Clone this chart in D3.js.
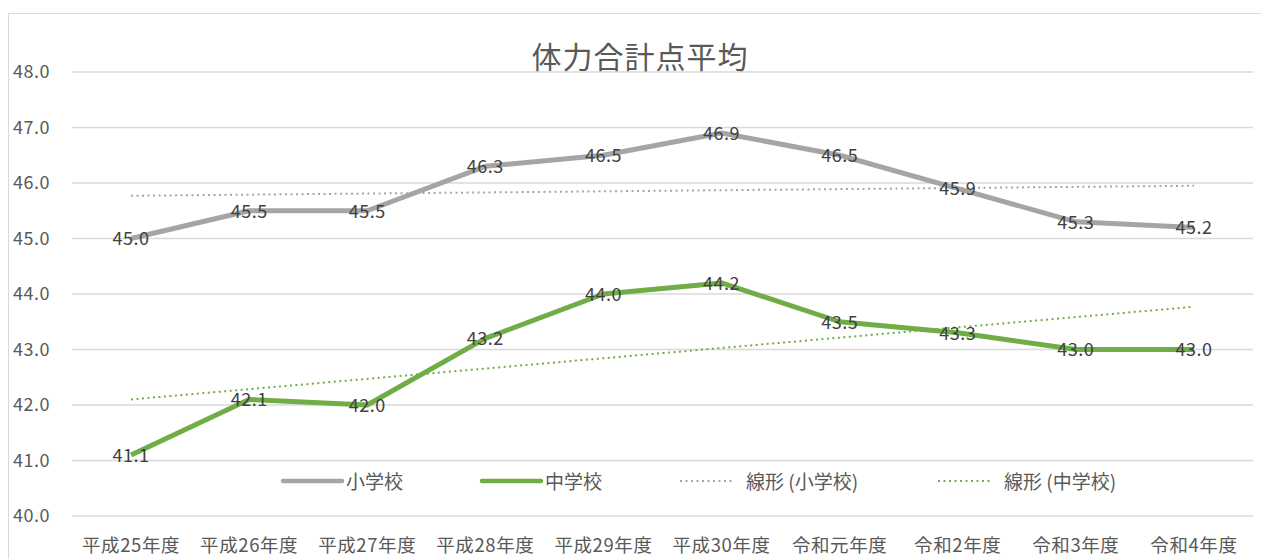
<!DOCTYPE html>
<html>
<head>
<meta charset="utf-8">
<script src="https://cdn.jsdelivr.net/npm/d3@7"></script>
<style>
    body { margin: 0; background: #fff; }
    svg { display: block; font-family: "Noto Sans CJK JP", "Noto Sans", sans-serif; }
</style>
</head>
<body>
<div id="chart"></div>
<script>
// data
var years = ['平成25年度', '平成26年度', '平成27年度', '平成28年度', '平成29年度',
    '平成30年度', '令和元年度', '令和2年度', '令和3年度', '令和4年度'];
var elementary = [45.0, 45.5, 45.5, 46.3, 46.5, 46.9, 46.5, 45.9, 45.3, 45.2];
var juniorHigh = [41.1, 42.1, 42.0, 43.2, 44.0, 44.2, 43.5, 43.3, 43.0, 43.0];
// trend line ends (first and last year)
var elementaryTrend = [45.77, 45.95];
var juniorHighTrend = [42.10, 43.77];
var yTicks = [40, 41, 42, 43, 44, 45, 46, 47, 48];
var legendNames = ['小学校', '中学校', '線形 (小学校)', '線形 (中学校)'];

(function () {
    'use strict';

    var width = 1261, height = 559;
    var gray = '#a5a5a5', green = '#70ad47';

    var svg = d3.select('#chart').append('svg')
        .attr('width', width)
        .attr('height', height);

    // chart border
    svg.append('rect')
        .attr('x', 8.5).attr('y', 13.5)
        .attr('width', width + 10).attr('height', height + 10)
        .attr('fill', 'none').attr('stroke', '#d9d9d9');

    var x = d3.scaleBand().domain(years).range([72, 1253]);
    var y = d3.scaleLinear().domain([40, 48]).range([516, 72]);
    var cx = function (d) { return x(d) + x.bandwidth() / 2; };

    // gridlines
    svg.append('g').selectAll('line').data(yTicks).enter().append('line')
        .attr('x1', 72).attr('x2', 1253)
        .attr('y1', function (d) { return y(d); })
        .attr('y2', function (d) { return y(d); })
        .attr('stroke', '#d9d9d9').attr('stroke-width', 1.5);

    // y labels
    svg.append('g').selectAll('text').data(yTicks).enter().append('text')
        .attr('x', 13).attr('y', function (d) { return y(d); })
        .attr('dy', '0.35em')
        .attr('font-size', 18).attr('letter-spacing', 0.5).attr('fill', '#595959')
        .text(function (d) { return d3.format('.1f')(d); });

    // x labels
    svg.append('g').selectAll('text').data(years).enter().append('text')
        .attr('x', cx).attr('y', 546)
        .attr('dy', '0.35em').attr('text-anchor', 'middle')
        .attr('font-size', 18.5).attr('letter-spacing', 0.6).attr('fill', '#595959')
        .text(function (d) { return d; });

    // title
    svg.append('text')
        .attr('x', 640).attr('y', 57).attr('dy', '0.35em')
        .attr('text-anchor', 'middle')
        .attr('font-size', 30).attr('letter-spacing', 1).attr('fill', '#595959')
        .text('体力合計点平均');

    var line = d3.line()
        .x(function (d, i) { return cx(years[i]); })
        .y(function (d) { return y(d); });

    var trendLine = d3.line()
        .x(function (d, i) { return cx(years[i === 0 ? 0 : years.length - 1]); })
        .y(function (d) { return y(d); });

    function trend (vals, color) {
        svg.append('path').datum(vals)
            .attr('d', trendLine)
            .attr('fill', 'none').attr('stroke', color)
            .attr('stroke-width', 2).attr('stroke-dasharray', '2,3.5');
    }

    trend(elementaryTrend, gray);
    trend(juniorHighTrend, green);

    function series (vals, color) {
        svg.append('path').datum(vals)
            .attr('d', line)
            .attr('fill', 'none').attr('stroke', color)
            .attr('stroke-width', 5).attr('stroke-linejoin', 'round');
    }

    series(elementary, gray);
    series(juniorHigh, green);

    function labels (vals) {
        svg.append('g').selectAll('text').data(vals).enter().append('text')
            .attr('x', function (d, i) { return cx(years[i]); })
            .attr('y', function (d) { return y(d); })
            .attr('dy', '0.38em').attr('text-anchor', 'middle')
            .attr('font-size', 18).attr('letter-spacing', 0.5).attr('fill', '#404040')
            .text(function (d) { return d3.format('.1f')(d); });
    }

    labels(elementary);
    labels(juniorHigh);

    // legend
    var legend = [
        { name: legendNames[0], color: gray, x: 283, dash: null, w: 4.5 },
        { name: legendNames[1], color: green, x: 482, dash: null, w: 4.5 },
        { name: legendNames[2], color: gray, x: 680, dash: '2,3.5', w: 2 },
        { name: legendNames[3], color: green, x: 938, dash: '2,3.5', w: 2 }
    ];
    var lg = svg.append('g').selectAll('g').data(legend).enter().append('g')
        .attr('transform', function (d) { return 'translate(' + d.x + ',481)'; });
    lg.append('line')
        .attr('x1', 0).attr('x2', function (d) { return d.dash ? 55 : 59; })
        .attr('stroke', function (d) { return d.color; })
        .attr('stroke-width', function (d) { return d.w; })
        .attr('stroke-linecap', function (d) { return d.dash ? 'butt' : 'round'; })
        .attr('stroke-dasharray', function (d) { return d.dash; });
    lg.append('text')
        .attr('x', function (d) { return d.dash ? 66 : 63; })
        .attr('y', 1)
        .attr('dy', '0.35em')
        .attr('font-size', 19).attr('fill', '#595959')
        .text(function (d) { return d.name; });
})();
</script>
</body>
</html>
